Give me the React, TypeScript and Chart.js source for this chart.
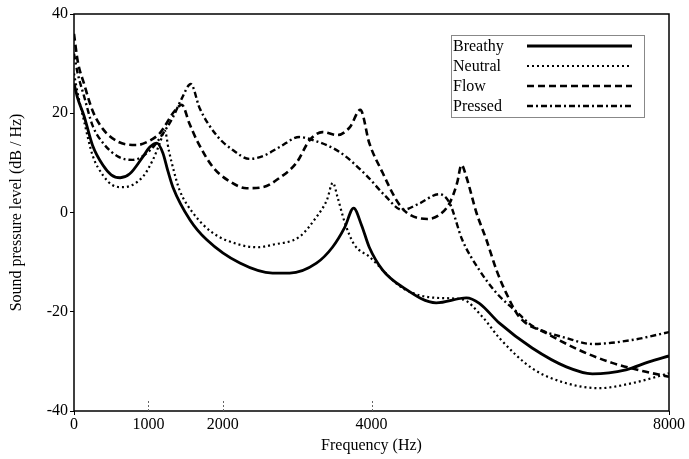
import React, { useEffect, useRef } from "react";
import { Chart, registerables } from "chart.js";

Chart.register(...registerables);

// ---- Data (frequency in Hz, level in dB/Hz) ----
const xTickValues = [0, 1000, 2000, 4000, 8000];
const innerTickValues = [1000, 2000, 4000];

const seriesLabels = ["Breathy", "Neutral", "Flow", "Pressed"];

const breathyFreq = [0, 50, 134, 250, 390, 500, 620, 750, 925, 1020, 1115, 1195, 1260, 1330, 1560, 1785, 2230, 2670, 2900, 3260, 3475, 3640, 3760, 3865, 3970, 4150, 4415, 4870, 5275, 5450, 5720, 6160, 6620, 6970, 7420, 7730, 8000];
const breathyLevel = [26, 23, 19.5, 13.5, 9.5, 7.6, 7.0, 7.8, 11.2, 13.2, 14.0, 12.0, 8.5, 5.1, -1.5, -5.5, -10.2, -12.2, -12.2, -10.2, -7, -3, 0.9, -2.5, -7, -11.6, -15, -18.2, -17.2, -18.3, -22.3, -27.3, -31.1, -32.5, -31.7, -30.1, -28.9];

const neutralFreq = [0, 50, 134, 250, 390, 520, 660, 925, 1060, 1155, 1220, 1275, 1340, 1420, 1600, 1865, 2230, 2470, 2670, 3030, 3260, 3400, 3480, 3545, 3640, 3770, 3970, 4415, 4870, 5220, 5490, 5720, 6160, 6620, 7060, 7500, 8000];
const neutralLevel = [28, 24, 18.5, 11.5, 7.5, 5.5, 5.1, 7.2, 10.6, 14, 16.5, 12.5, 8.5, 4.5, -0.1, -4.1, -6.5, -7, -6.5, -4.9, -0.9, 2.5, 6.0, 3, -2, -6.5, -8.9, -15.2, -17.2, -17.5, -21, -25.3, -31.4, -34.4, -35.4, -34.4, -32.4];

const flowFreq = [0, 50, 134, 250, 390, 600, 845, 1020, 1155, 1355, 1450, 1550, 1650, 1865, 2090, 2320, 2540, 2765, 2990, 3170, 3340, 3540, 3710, 3850, 3970, 4150, 4335, 4470, 4750, 4910, 5050, 5150, 5210, 5275, 5410, 5545, 5680, 5810, 5985, 6350, 6790, 7235, 7690, 8000];
const flowLevel = [36, 30.5, 26, 20.5, 16.8, 14.2, 13.6, 14.5, 16, 20.5, 21.7, 18, 14.6, 9.2, 6.3, 4.9, 5.1, 7, 10, 14.6, 16.2, 15.6, 17.2, 20.7, 14, 8, 2.5, 0, -1.3, -0.5, 1.9, 5.9, 9.6, 7.2, 0, -5.5, -11.6, -16.2, -21, -24.3, -27.7, -30.3, -32.1, -33.1];

const pressedFreq = [0, 50, 134, 250, 390, 600, 790, 1020, 1155, 1330, 1450, 1570, 1690, 1920, 2135, 2360, 2560, 2765, 3030, 3210, 3570, 3930, 4175, 4415, 4640, 4910, 5050, 5220, 5450, 5680, 5950, 6160, 6620, 6970, 7500, 8000];
const pressedLevel = [32, 28, 23.5, 17.5, 14, 11.2, 10.6, 12.5, 15, 19.2, 23, 25.9, 21, 15.5, 12.6, 10.8, 11.5, 13.2, 15.2, 14.6, 12.2, 7.5, 3.5, 0.5, 1.8, 3.7, 1.9, -5.5, -11.6, -16.2, -20, -22.8, -25.3, -26.5, -25.7, -24.1];

const toPoints = (xs: number[], ys: number[]) => xs.map((x, i) => ({ x, y: ys[i] }));

const FONT = "'Liberation Serif', 'Times New Roman', serif";

const lineStyles = [
  { dash: [] as number[], width: 2.8 },
  { dash: [2, 3], width: 2.2 },
  { dash: [7, 4], width: 2.6 },
  { dash: [6, 3, 2, 3], width: 2.4 },
];

const framePlugin = {
  id: "frameAndLegend",
  afterDatasetsDraw(chart: any) {
    const { ctx, chartArea } = chart;
    const { left, top, right, bottom } = chartArea;
    ctx.save();
    ctx.setLineDash([]);
    ctx.strokeStyle = "#000";
    ctx.lineWidth = 1.5;
    ctx.strokeRect(left, top, right - left, bottom - top);
    const xs = chart.scales.x;
    ctx.strokeStyle = "#666";
    ctx.lineWidth = 1;
    ctx.setLineDash([2, 2]);
    innerTickValues.forEach((v) => {
      const px = Math.round(xs.getPixelForValue(v)) + 0.5;
      ctx.beginPath();
      ctx.moveTo(px, bottom);
      ctx.lineTo(px, bottom - 10);
      ctx.stroke();
    });
    ctx.setLineDash([]);
    ctx.strokeStyle = "#000";
    ctx.lineWidth = 1;
    [0, 8000].forEach((v) => {
      const px = Math.round(xs.getPixelForValue(v)) + 0.5;
      ctx.beginPath();
      ctx.moveTo(px, bottom);
      ctx.lineTo(px, bottom + 4);
      ctx.stroke();
    });
    const bx = 451.5, by = 35.5, bw = 193, bh = 82;
    ctx.fillStyle = "#fff";
    ctx.fillRect(bx, by, bw, bh);
    ctx.strokeStyle = "#888";
    ctx.lineWidth = 1;
    ctx.strokeRect(bx, by, bw, bh);
    ctx.font = `16px ${FONT}`;
    ctx.fillStyle = "#000";
    ctx.textBaseline = "middle";
    ctx.textAlign = "left";
    chart.data.datasets.forEach((ds: any, i: number) => {
      const y = 46 + i * 20;
      ctx.fillText(ds.label, 453, y + 1);
      ctx.strokeStyle = "#000";
      ctx.lineWidth = lineStyles[i].width;
      ctx.setLineDash(lineStyles[i].dash);
      ctx.beginPath();
      ctx.moveTo(527, y);
      ctx.lineTo(632, y);
      ctx.stroke();
    });
    ctx.restore();
  },
};

export default function App() {
  const canvasRef = useRef<HTMLCanvasElement | null>(null);

  useEffect(() => {
    document.body.style.margin = "0";
    const canvas = canvasRef.current;
    if (!canvas) return;
    Chart.defaults.font.family = FONT;
    Chart.defaults.font.size = 16;
    Chart.defaults.color = "#000";

    const seriesData = [
      toPoints(breathyFreq, breathyLevel),
      toPoints(neutralFreq, neutralLevel),
      toPoints(flowFreq, flowLevel),
      toPoints(pressedFreq, pressedLevel),
    ];

    const chart = new Chart(canvas, {
      type: "line",
      data: {
        datasets: seriesLabels.map((label, i) => ({
          label,
          data: seriesData[i],
          borderColor: "#000",
          backgroundColor: "#000",
          borderWidth: lineStyles[i].width,
          borderDash: lineStyles[i].dash,
          pointRadius: 0,
          fill: false,
          cubicInterpolationMode: "monotone" as const,
        })),
      },
      options: {
        responsive: false,
        animation: false,
        layout: { padding: { top: 14, right: 19, left: 0, bottom: 0 } },
        plugins: {
          legend: { display: false },
          tooltip: { enabled: false },
        },
        scales: {
          x: {
            type: "linear",
            min: 0,
            max: 8000,
            afterBuildTicks: (scale: any) => {
              scale.ticks = xTickValues.map((v) => ({ value: v }));
            },
            afterFit: (scale: any) => {
              scale.height = 48;
            },
            ticks: {
              autoSkip: false,
              maxRotation: 0,
              padding: 4,
              color: "#000",
              font: { size: 16, family: FONT },
              callback: (v: any) => String(v),
            },
            grid: { display: false, drawTicks: false },
            border: { display: false },
            title: {
              display: true,
              text: "Frequency (Hz)",
              color: "#000",
              font: { size: 16, family: FONT },
              padding: { top: 4, bottom: 4 },
            },
          },
          y: {
            type: "linear",
            min: -40,
            max: 40,
            afterFit: (scale: any) => {
              scale.width = 74;
            },
            ticks: {
              stepSize: 20,
              padding: 2,
              color: "#000",
              font: { size: 16, family: FONT },
            },
            grid: {
              drawOnChartArea: false,
              drawTicks: true,
              tickLength: 4,
              color: "#000",
            },
            border: { display: false },
            title: {
              display: true,
              text: "Sound pressure level (dB / Hz)",
              color: "#000",
              font: { size: 16, family: FONT },
              padding: { top: 7, bottom: 7 },
            },
          },
        },
      },
      plugins: [framePlugin],
    });

    return () => chart.destroy();
  }, []);

  return (
    <div style={{ width: 689, height: 459, background: "#fff" }}>
      <canvas ref={canvasRef} width={689} height={459} style={{ display: "block" }} />
    </div>
  );
}
